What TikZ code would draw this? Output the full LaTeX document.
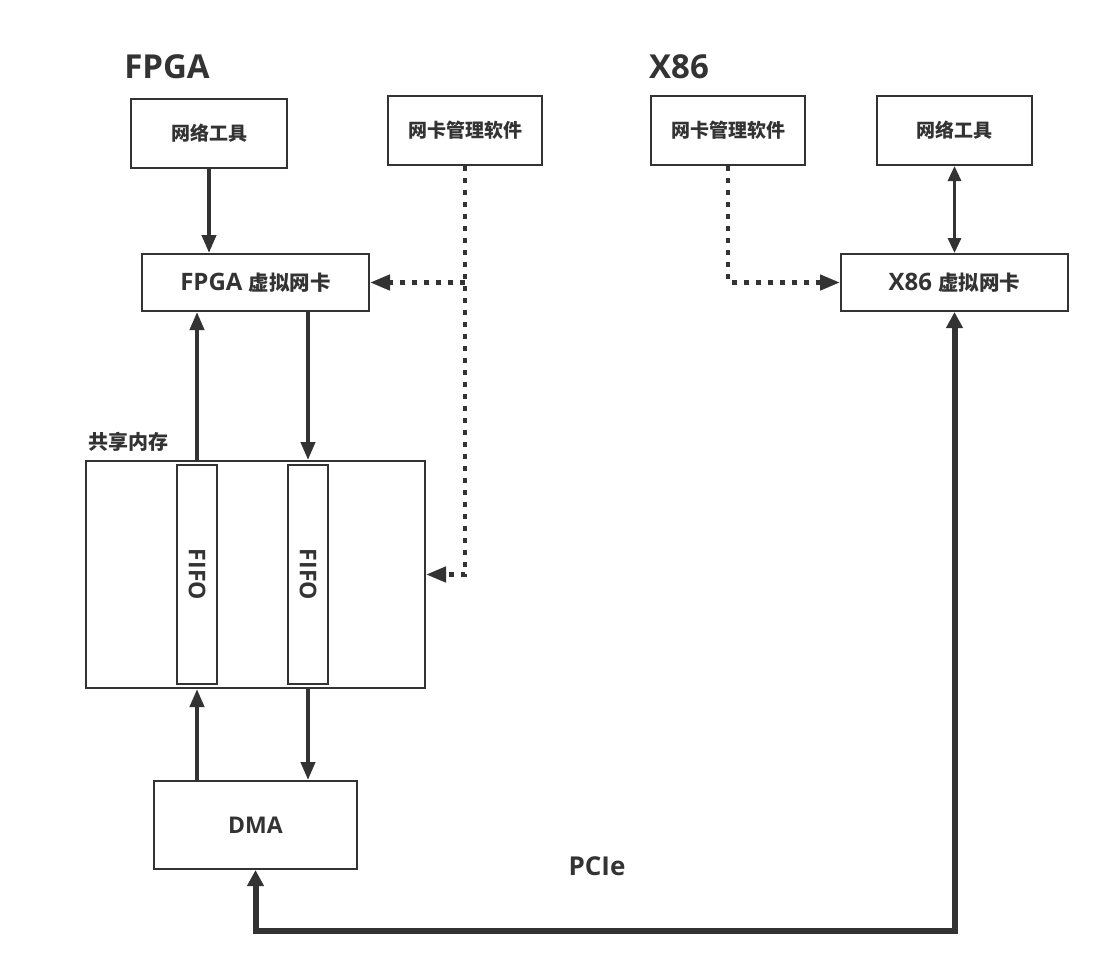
\documentclass[tikz,border=0pt]{standalone}
\usepackage{fontspec}
\setmainfont{Open Sans}
\newfontfamily\cjk{Noto Sans CJK SC}
\usetikzlibrary{arrows.meta}
\definecolor{ink}{HTML}{333333}
\begin{document}
\begin{tikzpicture}[x=1pt,y=-1pt,
  box/.style={draw=ink, line width=2pt, inner sep=0pt, text=ink,
    font=\fontsize{23}{23}\selectfont\bfseries},
  cjklabel/.style={font=\fontsize{19}{19}\selectfont\cjk\bfseries},
  nic/.style={font=\fontsize{24}{24}\selectfont\bfseries},
  title/.style={text=ink, inner sep=0pt, font=\fontsize{33}{33}\selectfont\bfseries},
  flow/.style={draw=ink, line width=4pt, -{Triangle[length=18pt,width=14pt]}},
  both/.style={draw=ink, line width=3pt, {Triangle[length=15pt,width=13pt]}-{Triangle[length=15pt,width=13pt]}},
  bus/.style={draw=ink, line width=6pt, {Triangle[length=16pt,width=16pt]}-{Triangle[length=16pt,width=16pt]}},
  ctrl/.style={draw=ink, line width=4.5pt, dash pattern=on 5pt off 7pt,
    -{Triangle[length=20pt,width=15pt]}}]
\useasboundingbox (0,0) rectangle (1100,964);

% section titles
\node[title] (tA) at (167,67) {FPGA};
\node[title] (tB) at (679,67) {X86};

% FPGA side
\node[box, cjklabel, minimum width=156pt, minimum height=69pt] (ntA) at (209,133.5) {网络工具};
\node[box, cjklabel, minimum width=154pt, minimum height=69pt] (mgA) at (465,130.5) {网卡管理软件};
\node[box, nic, minimum width=227pt, minimum height=57pt] (vA) at (255.5,282.5) {FPGA {\fontsize{20.5}{20.5}\selectfont\cjk\bfseries 虚拟网卡}};

\node[text=ink, inner sep=0pt, font=\fontsize{20}{20}\selectfont\cjk\bfseries] (shml) at (128,442) {共享内存};
\node[box, minimum width=339pt, minimum height=227pt] (shm) at (255.5,574.5) {};
\node[box, minimum width=40pt, minimum height=219pt] (f1) at (197,574.5) {};
\node[box, minimum width=40pt, minimum height=219pt] (f2) at (308,574.5) {};
\node[text=ink, inner sep=0pt, rotate=-90, font=\fontsize{23}{23}\selectfont\bfseries] (f1t) at (f1) {FIFO};
\node[text=ink, inner sep=0pt, rotate=-90, font=\fontsize{23}{23}\selectfont\bfseries] (f2t) at (f2) {FIFO};

\node[box, minimum width=203pt, minimum height=88pt] (dma) at (255.5,825) {DMA};

% X86 side
\node[box, cjklabel, minimum width=154pt, minimum height=69pt] (mgB) at (728,130.5) {网卡管理软件};
\node[box, cjklabel, minimum width=155pt, minimum height=69pt] (ntB) at (954.5,130.5) {网络工具};
\node[box, nic, minimum width=227pt, minimum height=57pt] (vB) at (954.5,282.5) {X86 {\fontsize{20.5}{20.5}\selectfont\cjk\bfseries 虚拟网卡}};

\node[text=ink, inner sep=0pt, font=\fontsize{26}{26}\selectfont\bfseries] (pcie) at (597,866) {PCIe};

% data paths
\draw[flow] (ntA.south) -- (ntA.south |- vA.north);
\draw[flow] (f1.north |- shm.north) -- (f1.north |- vA.south);
\draw[flow] (f2.north |- vA.south) -- (f2.north |- shm.north);
\draw[flow] (f1.south |- dma.north) -- (f1.south |- shm.south);
\draw[flow] (f2.south |- shm.south) -- (f2.south |- dma.north);
\draw[both] (ntB.south) -- (vB.north);

% management paths
\coordinate (jA) at (mgA.south |- vA.east);
\coordinate (jS) at (mgA.south |- shm.east);
\draw[ctrl] (mgA.south) -- (jS) -- (shm.east);
\draw[ctrl] (jA) -- (vA.east);
\coordinate (jB) at (mgB.south |- vB.west);
\draw[ctrl] (mgB.south) -- (jB) -- (vB.west);

% PCIe link
\coordinate (pl) at (dma.south |- 0,931);
\coordinate (pr) at (vB.south |- 0,931);
\draw[bus] (dma.south) -- (pl) -- (pr) -- (vB.south);
\end{tikzpicture}
\end{document}
